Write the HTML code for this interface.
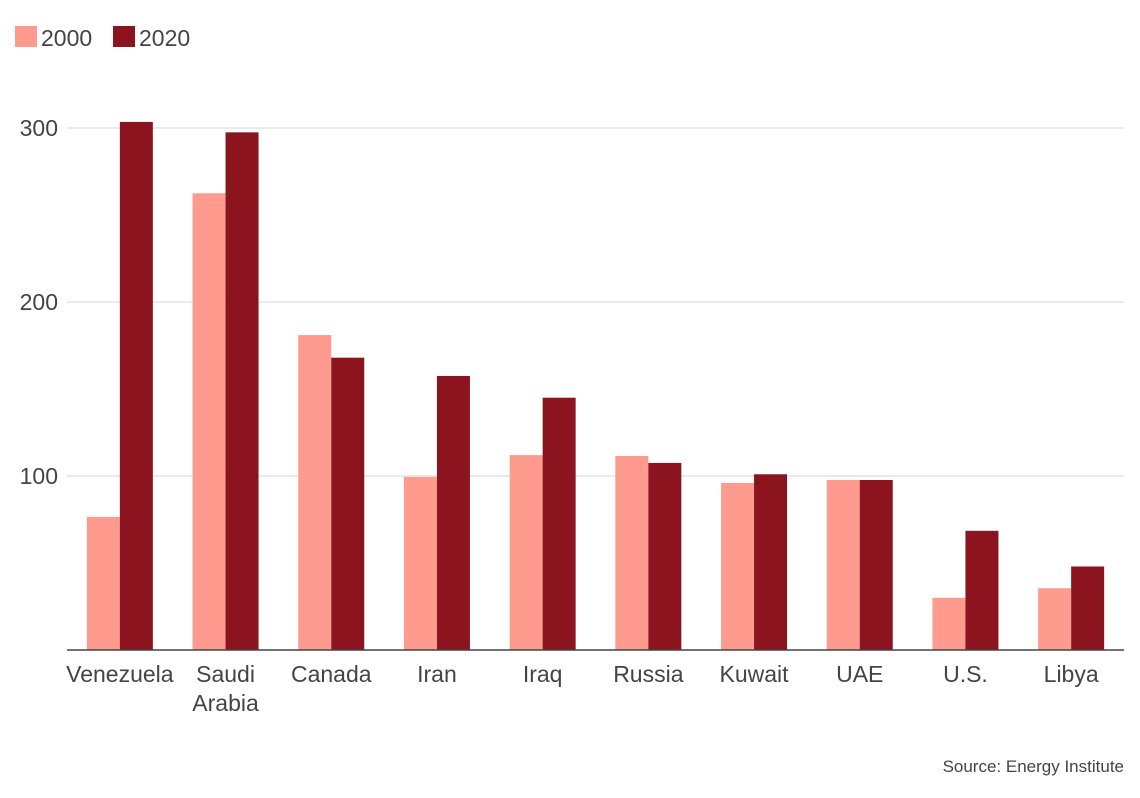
<!DOCTYPE html>
<html><head><meta charset="utf-8"><style>
body{margin:0;background:#fff;font-family:"Liberation Sans",sans-serif;}
svg text{font-family:"Liberation Sans",sans-serif;fill:#444;}
</style></head><body>
<svg id="c" width="1140" height="793">
<g id="legend">
<rect x="15" y="26" width="22" height="21" fill="#ff9a8f"/>
<text x="41" y="46" font-size="23">2000</text>
<rect x="113" y="26" width="22" height="21" fill="#8b141e"/>
<text x="139" y="46" font-size="23">2020</text>
</g>
<text x="1124" y="772" font-size="17" text-anchor="end">Source: Energy Institute</text>
</svg>
<script>
const categories=["Venezuela","Saudi Arabia","Canada","Iran","Iraq","Russia","Kuwait","UAE","U.S.","Libya"];
const values2000=[76.5,262.5,181,99.5,112,111.5,96,97.7,30,35.5];
const values2020=[303.5,297.5,168,157.5,145,107.5,101,97.7,68.5,48];
const ticks=[100,200,300];
const svg=document.getElementById('c');
const NS='http://www.w3.org/2000/svg';
const x0=67,x1=1124,y0=650,pxPer=1.74;
const band=(x1-x0)/categories.length;
const y=v=>y0-v*pxPer;
const bx=i=>x0+band*i+band/2;
function mk(t,a){const e=document.createElementNS(NS,t);for(const k in a)e.setAttribute(k,a[k]);svg.appendChild(e);return e;}
ticks.forEach(t=>{
 const g=mk('line',{x1:x0,x2:x1,y1:y(t),y2:y(t),stroke:'#e4e4e4','stroke-width':1.5});
 
 
 const l=mk('text',{x:58,y:y(t)+8,'font-size':23,'text-anchor':'end'});l.textContent=t;
 
 
});
const bw=33;
categories.forEach((c,i)=>{
 const cx=bx(i);
 const a=mk('rect',{x:cx-bw,y:y(values2000[i]),width:bw,height:values2000[i]*pxPer,fill:'#ff9a8f'});
 
 
 const b=mk('rect',{x:cx,y:y(values2020[i]),width:bw,height:values2020[i]*pxPer,fill:'#8b141e'});
 
 
 const parts=c==="Saudi Arabia"?["Saudi","Arabia"]:[c];
 parts.forEach((p,j)=>{
  const t=mk('text',{x:cx,y:682+j*29,'font-size':23,'text-anchor':'middle'});t.textContent=p;
  
  
 });
});
const ax=mk('line',{x1:x0,x2:x1,y1:y0,y2:y0,stroke:'#444','stroke-width':1.5});


</script>
</body></html>
